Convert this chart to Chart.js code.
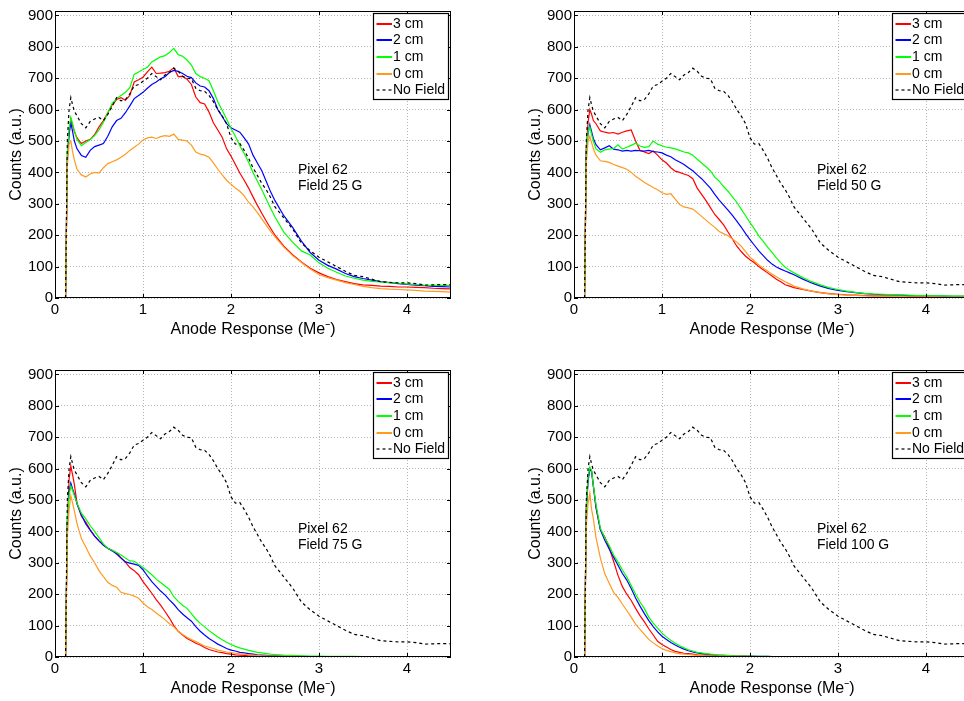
<!DOCTYPE html>
<html lang="en">
<head>
<meta charset="UTF-8">
<title>Pixel 62 - anode response</title>
<script src="https://cdn.jsdelivr.net/npm/chart.js"></script>
<style>
  html, body { margin: 0; padding: 0; background: #fff; }
  body { position: relative; width: 964px; height: 701px; overflow: hidden; }
  canvas { position: absolute; }
</style>
</head>
<body>
<canvas id="c25" width="460" height="345" style="left:0;top:0"></canvas>
<canvas id="c50" width="460" height="345" style="left:519px;top:0"></canvas>
<canvas id="c75" width="460" height="345" style="left:0;top:359px"></canvas>
<canvas id="c100" width="460" height="345" style="left:519px;top:359px"></canvas>

<script>
// x positions (Me-), shared by every curve
const xVals = [
  0.12, 0.14, 0.16, 0.18, 0.2, 0.22,
  0.25, 0.3, 0.35, 0.4, 0.45, 0.5, 0.55, 0.6, 0.65, 0.7, 0.75, 0.8, 0.85, 0.9, 0.95, 1.0,
  1.05, 1.1, 1.15, 1.2, 1.25, 1.3, 1.35, 1.4, 1.45, 1.5, 1.55, 1.6, 1.65, 1.7, 1.75, 1.8,
  1.85, 1.9, 1.95, 2.0, 2.05, 2.1, 2.15, 2.2, 2.25, 2.3, 2.35, 2.4, 2.45, 2.5,
  2.6, 2.7, 2.8, 2.9, 3.0, 3.1, 3.2, 3.3, 3.4, 3.5,
  3.6, 3.7, 3.8, 3.9, 4.0, 4.1, 4.2, 4.3, 4.4, 4.5
];

// no field reference (same in all four panels)
const noField = [
  0, 500, 600, 638, 615, 595,
  580, 555, 542, 562, 570, 575, 565, 585, 610, 638, 628, 632, 650, 675, 680, 690,
  700, 715, 705, 695, 710, 718, 732, 722, 706, 700, 698, 668, 660, 658, 645, 625,
  600, 580, 555, 510, 490, 492, 470, 445, 415, 390, 365, 345, 320, 290,
  255, 220, 175, 150, 130, 115, 100, 85, 72, 68,
  60, 52, 50, 48, 48, 46, 41, 42, 43, 42
];

// 25 G
const red25 = [
  0, 450, 530, 570, 550, 530,
  510, 492, 500, 505, 520, 545, 565, 590, 615, 632, 638, 630, 645, 688, 695, 703,
  720, 735, 715, 716, 718, 722, 733, 705, 706, 697, 680, 640, 622, 618, 592, 558,
  535, 512, 475, 452, 425, 398, 375, 350, 322, 295, 270, 245, 222, 200,
  165, 138, 115, 95, 80, 68, 59, 52, 46, 42,
  40, 38, 37, 35, 35, 34, 33, 31, 30, 29
];
const blue25 = [
  0, 440, 520, 558, 530, 500,
  475, 454, 448, 470, 482, 487, 492, 515, 545, 565, 572, 590, 612, 635, 645, 655,
  668, 680, 688, 698, 705, 718, 725, 722, 715, 706, 702, 685, 675, 672, 660, 635,
  600, 578, 555, 542, 535, 528, 510, 490, 455, 430, 405, 372, 338, 310,
  262, 225, 181, 145, 120, 104, 92, 78, 68, 62,
  57, 52, 49, 46, 43, 41, 39, 37, 36, 35
];
const green25 = [
  0, 460, 540, 575, 555, 532,
  505, 485, 495, 505, 517, 535, 560, 590, 620, 635, 645, 655, 670, 712, 720, 728,
  735, 752, 760, 768, 772, 782, 795, 775, 770, 758, 742, 715, 705, 700, 692, 660,
  625, 598, 570, 540, 515, 485, 460, 432, 400, 372, 345, 315, 286, 258,
  210, 178, 150, 137, 112, 95, 82, 70, 63, 57,
  53, 51, 49, 47, 45, 43, 41, 40, 40, 40
];
const orange25 = [
  0, 420, 490, 500, 465, 440,
  410, 392, 385, 395, 400, 398, 415, 428, 434, 440, 448, 458, 470, 480, 490, 503,
  510, 512, 508, 514, 517, 515, 522, 505, 503, 500, 487, 465, 458, 455, 448, 430,
  410, 392, 375, 362, 350, 340, 325, 305, 290, 272, 252, 232, 212, 195,
  162, 135, 113, 92, 75, 65, 57, 49, 43, 37,
  33, 30, 28, 27, 26, 24, 22, 21, 20, 19
];

// 50 G
const red50 = [
  0, 480, 560, 600, 585, 565,
  555, 532, 528, 525, 527, 522, 528, 532, 535, 500, 470, 465, 460, 468, 455, 440,
  430, 415, 404, 400, 395, 390, 380, 350, 330, 310, 288, 266, 250, 233, 210, 188,
  165, 148, 133, 122, 112, 100, 90, 80, 70, 60, 52, 42, 38, 33,
  27, 22, 17, 14, 12, 10, 9, 8, 7, 7,
  6, 6, 5, 5, 5, 4, 4, 4, 3, 3
];
const blue50 = [
  0, 470, 525, 552, 530, 508,
  488, 472, 478, 485, 474, 472, 468, 470, 468, 470, 469, 468, 470, 466, 465, 462,
  455, 450, 440, 433, 425, 415, 405, 392, 380, 365, 350, 330, 312, 296, 280, 263,
  245, 226, 205, 186, 168, 150, 135, 120, 108, 99, 92, 86, 80, 74,
  60, 48, 38, 30, 24, 20, 17, 14, 12, 11,
  10, 9, 8, 7, 7, 6, 6, 5, 5, 5
];
const green50 = [
  0, 470, 530, 545, 520, 500,
  475, 464, 472, 474, 476, 488, 474, 480, 486, 493, 484, 480, 482, 500, 490, 485,
  480, 478, 475, 470, 465, 462, 455, 442, 430, 418, 405, 385, 372, 355, 340, 322,
  305, 283, 262, 240, 220, 198, 180, 162, 145, 128, 112, 98, 88, 80,
  65, 52, 42, 33, 27, 22, 18, 15, 13, 12,
  11, 10, 9, 8, 8, 7, 7, 6, 6, 6
];
const orange50 = [
  0, 430, 500, 515, 495, 475,
  455, 437, 435, 432, 425, 420, 415, 410, 400, 388, 378, 368, 360, 352, 345, 335,
  330, 332, 315, 298, 290, 287, 283, 272, 260, 248, 236, 225, 212, 205, 198, 188,
  178, 165, 148, 130, 118, 105, 95, 86, 76, 68, 60, 52, 45, 38,
  29, 22, 17, 13, 11, 9, 8, 7, 6, 6,
  5, 5, 4, 4, 4, 4, 3, 3, 3, 3
];

// 75 G
const red75 = [
  0, 420, 566, 608, 580, 550,
  490, 448, 430, 405, 385, 370, 357, 346, 340, 332, 316, 302, 285, 275, 262, 240,
  222, 203, 183, 165, 145, 124, 100, 82, 70, 59, 52, 44, 38, 30, 24, 20,
  16, 14, 11, 9, 7, 6, 5, 4, 4, 3, 3, 2, 2, 2,
  1, 1, 1, 1, 1, 1, 1, 1, 1, 1,
  1, 1, 1, 1, 1, 1, 1, 1, 1, 1
];
const blue75 = [
  0, 430, 525, 554, 535, 519,
  488, 452, 424, 404, 385, 370, 356, 346, 338, 328, 315, 303, 299, 296, 292, 278,
  258, 240, 225, 210, 198, 182, 168, 151, 137, 125, 114, 97, 82, 70, 59, 50,
  41, 34, 27, 22, 19, 15, 13, 11, 9, 7, 6, 5, 4, 4,
  3, 2, 2, 1, 1, 1, 1, 1, 1, 1,
  1, 1, 1, 1, 1, 1, 1, 1, 1, 1
];
const green75 = [
  0, 440, 515, 545, 530, 514,
  490, 458, 440, 418, 400, 380, 360, 346, 340, 333, 325, 315, 306, 305, 295, 285,
  274, 262, 248, 237, 226, 215, 192, 177, 165, 155, 138, 121, 107, 96, 84, 74,
  64, 55, 47, 40, 34, 29, 25, 21, 18, 15, 13, 11, 9, 8,
  6, 5, 4, 3, 3, 2, 2, 2, 2, 1,
  1, 1, 1, 1, 1, 1, 1, 1, 1, 1
];
const orange75 = [
  0, 380, 470, 514, 490, 465,
  425, 377, 350, 322, 300, 275, 256, 238, 228, 222, 206, 202, 199, 194, 187, 172,
  160, 151, 140, 130, 119, 106, 96, 82, 72, 63, 56, 49, 42, 35, 31, 27,
  22, 19, 16, 14, 12, 10, 9, 7, 6, 5, 4, 4, 3, 3,
  2, 2, 1, 1, 1, 1, 1, 1, 1, 1,
  1, 1, 1, 1, 1, 1, 1, 1, 1, 1
];

// 100 G
const red100 = [
  0, 480, 570, 598, 592, 545,
  475, 405, 382, 348, 305, 260, 224, 200, 180, 155, 132, 112, 90, 70, 50, 40,
  32, 24, 18, 15, 12, 11, 9, 7, 6, 5, 5, 4, 4, 3, 3, 3,
  2, 2, 2, 2, 2, 1, 1, 1, 1, 1, 1, 1, 1, 1,
  1, 1, 1, 1, 1, 1, 1, 1, 1, 1,
  1, 1, 1, 1, 1, 1, 1, 1, 1, 1
];
const blue100 = [
  0, 470, 560, 600, 590, 545,
  478, 405, 372, 344, 318, 292, 266, 245, 218, 188, 162, 138, 116, 97, 80, 66,
  56, 46, 38, 31, 25, 20, 16, 13, 11, 9, 8, 7, 5, 5, 4, 4,
  3, 3, 3, 2, 2, 2, 2, 2, 1, 1, 1, 1, 1, 1,
  1, 1, 1, 1, 1, 1, 1, 1, 1, 1,
  1, 1, 1, 1, 1, 1, 1, 1, 1, 1
];
const green100 = [
  0, 480, 570, 605, 595, 545,
  485, 410, 380, 355, 325, 302, 277, 255, 228, 200, 175, 154, 127, 108, 92, 76,
  64, 53, 44, 36, 29, 23, 19, 15, 13, 11, 9, 8, 6, 6, 5, 4,
  4, 3, 3, 3, 2, 2, 2, 2, 1, 1, 1, 1, 1, 1,
  1, 1, 1, 1, 1, 1, 1, 1, 1, 1,
  1, 1, 1, 1, 1, 1, 1, 1, 1, 1
];
const orange100 = [
  0, 420, 490, 522, 470, 440,
  380, 315, 265, 235, 206, 190, 168, 148, 127, 105, 88, 72, 56, 45, 35, 27,
  21, 17, 13, 11, 9, 8, 7, 5, 5, 4, 4, 3, 3, 3, 2, 2,
  2, 2, 2, 1, 1, 1, 1, 1, 1, 1, 1, 1, 1, 1,
  1, 1, 1, 1, 1, 1, 1, 1, 1, 1,
  1, 1, 1, 1, 1, 1, 1, 1, 1, 1
];

const fields = [25, 50, 75, 100];
const seriesNames = ['3 cm', '2 cm', '1 cm', '0 cm', 'No Field'];
const seriesColors = ['#ff0000', '#0000ff', '#00ff00', '#ff9a20', '#000000'];
const xTicks = [0, 1, 2, 3, 4];
const yTicks = [0, 100, 200, 300, 400, 500, 600, 700, 800, 900];
const pixelNo = 62;

const FONT = '"Liberation Sans", Arial, Helvetica, sans-serif';
Chart.defaults.font.family = FONT;
Chart.defaults.color = '#000';

// axes box with inward ticks (matlab style)
const axesBox = {
  id: 'axesBox',
  afterDatasetsDraw(chart) {
    const { ctx, chartArea: a, scales } = chart;
    ctx.save();
    ctx.strokeStyle = '#000';
    ctx.lineWidth = 1;
    ctx.beginPath();
    scales.x.ticks.forEach(t => {
      const px = Math.round(scales.x.getPixelForValue(t.value)) + 0.5;
      ctx.moveTo(px, a.bottom); ctx.lineTo(px, a.bottom - 4);
      ctx.moveTo(px, a.top); ctx.lineTo(px, a.top + 4);
    });
    scales.y.ticks.forEach(t => {
      const py = Math.round(scales.y.getPixelForValue(t.value)) + 0.5;
      ctx.moveTo(a.left, py); ctx.lineTo(a.left + 4, py);
      ctx.moveTo(a.right, py); ctx.lineTo(a.right - 4, py);
    });
    ctx.stroke();
    ctx.strokeRect(Math.round(a.left) + 0.5, Math.round(a.top) + 0.5,
                   Math.round(a.right - a.left) - 1, Math.round(a.bottom - a.top) - 1);
    ctx.restore();
  }
};

// boxed legend in the upper right corner
const boxLegend = {
  id: 'boxLegend',
  afterDraw(chart) {
    const { ctx, chartArea: a } = chart;
    const left = Math.round(a.right - 78) + 0.5;
    const top = Math.round(a.top + 2) + 0.5;
    ctx.save();
    ctx.fillStyle = '#fff';
    ctx.fillRect(left, top, 75, 86);
    ctx.strokeStyle = '#000';
    ctx.lineWidth = 1.2;
    ctx.strokeRect(left, top, 75, 86);
    ctx.font = '14px ' + FONT;
    ctx.textBaseline = 'middle';
    chart.data.datasets.forEach((ds, i) => {
      const y = Math.round(top + 10 + i * 16.7);
      ctx.beginPath();
      ctx.lineWidth = i === 4 ? 1.2 : 2;
      ctx.setLineDash(i === 4 ? [3, 3] : []);
      ctx.strokeStyle = ds.borderColor;
      ctx.moveTo(left + 3, y);
      ctx.lineTo(left + 18.5, y);
      ctx.stroke();
      ctx.setLineDash([]);
      ctx.fillStyle = '#000';
      ctx.fillText(ds.label, left + 19.5, y);
    });
    ctx.restore();
  }
};

// "Pixel 62 / Field xx G" note
const fieldNote = {
  id: 'fieldNote',
  afterDatasetsDraw(chart, args, opts) {
    const { ctx, scales } = chart;
    ctx.save();
    ctx.font = '14px ' + FONT;
    ctx.fillStyle = '#000';
    ctx.textBaseline = 'middle';
    const px = scales.x.getPixelForValue(2.76);
    ctx.fillText('Pixel ' + pixelNo, px, scales.y.getPixelForValue(408));
    ctx.fillText('Field ' + opts.field + ' G', px, scales.y.getPixelForValue(357));
    ctx.restore();
  }
};

function makePanel(canvasId, field, curves) {
  const datasets = seriesNames.map((name, i) => {
    const ys = i < 4 ? curves[i] : noField;
    return {
      label: name,
      data: xVals.map((x, j) => ({ x: x, y: ys[j] })),
      borderColor: seriesColors[i],
      backgroundColor: seriesColors[i],
      borderWidth: 1.2,
      borderDash: i === 4 ? [3, 3] : [],
      pointRadius: 0,
      tension: 0,
      fill: false,
      order: 4 - i
    };
  });

  new Chart(document.getElementById(canvasId), {
    type: 'line',
    data: { datasets: datasets },
    plugins: [axesBox, fieldNote, boxLegend],
    options: {
      responsive: false,
      animation: false,
      events: [],
      layout: { padding: { left: 0, right: 9, top: 7, bottom: 0 } },
      plugins: {
        legend: { display: false },
        tooltip: { enabled: false },
        fieldNote: { field: field }
      },
      scales: {
        x: {
          type: 'linear',
          min: 0,
          max: 4.5,
          afterBuildTicks: s => { s.ticks = xTicks.map(v => ({ value: v })); },
          afterFit: s => { s.height = 47; },
          grid: { color: '#b4b4b4', lineWidth: 1, drawTicks: false },
          border: { display: false, dash: [1, 2] },
          ticks: { font: { size: 15 }, padding: 3, maxRotation: 0, callback: v => String(v) },
          title: {
            display: true,
            text: 'Anode Response (Me\u207B)',
            font: { size: 16 },
            padding: { top: 0, bottom: 6 }
          }
        },
        y: {
          type: 'linear',
          min: 0,
          max: 914,
          afterBuildTicks: s => { s.ticks = yTicks.map(v => ({ value: v })); },
          afterFit: s => { s.width = 55; },
          grid: { color: '#b4b4b4', lineWidth: 1, drawTicks: false },
          border: { display: false, dash: [1, 2] },
          ticks: { font: { size: 15 }, padding: 2, callback: v => String(v) },
          title: {
            display: true,
            text: 'Counts (a.u.)',
            font: { size: 16 },
            padding: { top: 7, bottom: 0 }
          }
        }
      }
    }
  });
}

makePanel('c25', fields[0], [red25, blue25, green25, orange25]);
makePanel('c50', fields[1], [red50, blue50, green50, orange50]);
makePanel('c75', fields[2], [red75, blue75, green75, orange75]);
makePanel('c100', fields[3], [red100, blue100, green100, orange100]);
</script>
</body>
</html>
